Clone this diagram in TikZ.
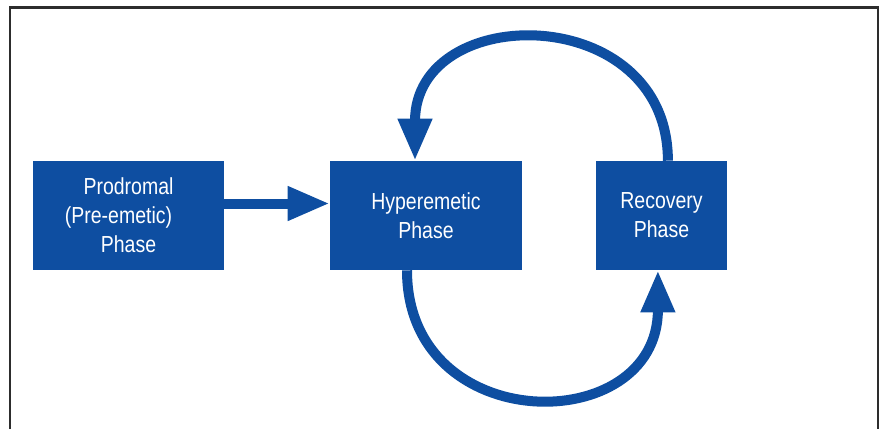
\documentclass[tikz,border=0pt]{standalone}
\usepackage{fontspec}
\setmainfont[FakeStretch=0.84]{Liberation Sans}
\usetikzlibrary{arrows.meta}
\definecolor{phaseBlue}{RGB}{14, 78, 161}
\definecolor{frameGray}{RGB}{45, 45, 45}

\begin{document}
\begin{tikzpicture}
            % Styles
            \tikzstyle{phase} = [rectangle, fill=phaseBlue, text=white, minimum height=2.725cm, inner sep=0pt, align=center, font=\fontsize{16.5}{20.5}\selectfont]
            \tikzstyle{arrow} = [-{Triangle[length=1.05cm, width=0.8cm]}, line width=0.25cm, phaseBlue]
            \tikzstyle{frame} = [line width=1.6pt, frameGray]

            \useasboundingbox (0, 0) rectangle (22.1, -10.725);
            \draw[frame] (0.25, -10.725) -- (0.25, -0.19) -- (21.95, -0.19) -- (21.95, -10.725);

            % Nodes - explicit coordinates
            \node[phase, minimum width=4.775cm] (prod) at (3.2125, -5.3875) {Prodromal\\(Pre-emetic)\hbox to 0.5cm{}\\Phase};
            \node[phase, minimum width=4.8cm] (hyper) at (10.65, -5.3875) {Hyperemetic\\Phase};
            \node[phase, minimum width=3.275cm] (recov) at (16.5375, -5.3875) {Recovery\\Phase};

            % Arrows
            \draw[arrow] ([yshift=0.3cm]prod.east) -- ([yshift=0.3cm]hyper.west);
            \draw[arrow] ([xshift=0.16cm]recov.north) .. controls +(0, 4.0) and +(0, 4.0) .. ([xshift=-0.275cm]hyper.north);
            \draw[arrow] ([xshift=-0.475cm]hyper.south) .. controls +(0, -4.2) and +(0, -4.2) .. ([xshift=-0.09cm]recov.south);
        \end{tikzpicture}
\end{document}
